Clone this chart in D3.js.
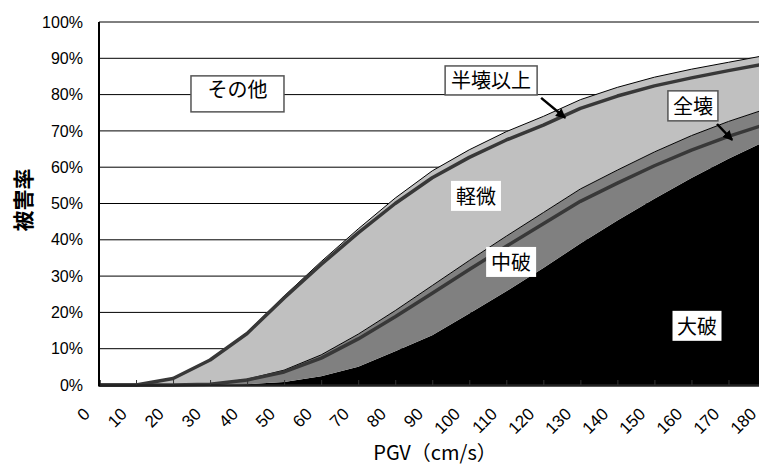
<!DOCTYPE html>
<html><head><meta charset="utf-8">
<script src="https://cdn.jsdelivr.net/npm/d3@7"></script>
<style>
html,body{margin:0;padding:0;background:#fff;}
svg{display:block;}
</style></head>
<body>
<svg id="chart" width="759" height="471"></svg>
<script>
// ---- data ----
const pgv = [0,10,20,30,40,50,60,70,80,90,100,110,120,130,140,150,160,170,180];
const yTicks = [0,10,20,30,40,50,60,70,80,90,100];
// stacked bands (%)
const daiha = [0,0,0,0,0.2,0.8,2.4,5,9.3,13.7,19.7,25.8,32.2,39,45.3,51.3,57,62.3,67.2];   // 大破
const chuha = [0,0,0,0.2,1.4,3.3,5.9,9,11.2,13.7,14.6,15.2,15.3,15,13.9,12.9,11.7,10.3,8.8]; // 中破
const keibi = [0,0,1.8,6.8,12.9,20.4,25.7,29,31,31.6,30.5,28.8,26.5,24.6,22.8,20.6,18.3,16.3,14.8]; // 軽微
// lines (%)
const zenkai = [0,0,0,0.2,1.4,3.6,7.4,12.7,18.8,25.3,31.8,38.2,44.4,50.6,55.6,60.4,64.7,68.5,71.8]; // 全壊
const hankaiIjo = [0,0,1.8,6.9,14.2,24,33.2,41.9,50,57.1,62.7,67.5,71.6,76.2,79.6,82.4,84.6,86.6,88.5]; // 半壊以上
const bandNames = ["大破","中破","軽微"];

// ---- layout ----
const svg = d3.select("#chart");
const x = d3.scaleLinear().domain([0,180]).range([99,765.5]);
const y = d3.scaleLinear().domain([0,100]).range([385,22]);
const numFont = "'Liberation Sans', Arial, sans-serif";
const jpFont = "'Noto Sans CJK JP', sans-serif";

// gridlines
svg.append("g").selectAll("line").data(yTicks.filter(d=>d>0)).join("line")
  .attr("x1", x(0)).attr("x2", 759)
  .attr("y1", d=>y(d)).attr("y2", d=>y(d))
  .attr("stroke", "#000").attr("stroke-width", 1);

// stacked areas
const rows = pgv.map((v,i)=>({v, "大破":daiha[i], "中破":chuha[i], "軽微":keibi[i]}));
const stack = d3.stack().keys(bandNames)(rows);
const fills = {"大破":"#000000","中破":"#808080","軽微":"#c0c0c0"};
const area = d3.area().x(d=>x(d.data.v)).y0(d=>y(d[0])).y1(d=>y(d[1]));
svg.append("g").selectAll("path").data(stack).join("path")
  .attr("d", area).attr("fill", d=>fills[d.key]).attr("stroke","none");

// thin black edges on top of 中破 and 軽微
const topLine = d3.line().x(d=>x(d.data.v)).y(d=>y(d[1]));
svg.append("g").selectAll("path").data(stack.filter(s=>s.key!=="大破")).join("path")
  .attr("d", topLine).attr("fill","none").attr("stroke","#000").attr("stroke-width",1);

// thick lines
const line = d3.line().x((d,i)=>x(pgv[i])).y(d=>y(d));
[zenkai, hankaiIjo].forEach(arr=>{
  svg.append("path").attr("d", line(arr)).attr("fill","none")
    .attr("stroke","#383838").attr("stroke-width",3.5).attr("stroke-linejoin","round");
});

// x axis
const xAxis = svg.append("g").attr("transform",`translate(0,${y(0)})`)
  .call(d3.axisBottom(x).tickValues(pgv).tickSize(-5).tickFormat(d=>d));
xAxis.select(".domain").attr("stroke","#222").attr("stroke-width",2.5);
xAxis.selectAll(".tick line").attr("stroke","#333").attr("stroke-width",1);
xAxis.selectAll(".tick text")
  .attr("font-family", numFont).attr("font-size", 17).attr("fill","#000")
  .attr("text-anchor","end").attr("dy", null).attr("y", null)
  .attr("transform","translate(-8.5,30) rotate(-45)");

// y axis
svg.append("line").attr("x1",x(0)).attr("x2",x(0)).attr("y1",y(100)).attr("y2",y(0)+1)
  .attr("stroke","#000").attr("stroke-width",2);
const yAxis = svg.append("g").attr("transform",`translate(${x(0)},0)`)
  .call(d3.axisLeft(y).tickValues(yTicks).tickSize(0).tickPadding(16).tickFormat(d=>d+"%"));
yAxis.select(".domain").remove();
yAxis.selectAll(".tick text").attr("font-family", numFont).attr("font-size",16).attr("fill","#000");

// axis titles
svg.append("text").attr("x", 435).attr("y", 460).attr("text-anchor","middle")
  .attr("font-family", jpFont).attr("font-size", 20).attr("fill","#000").text("PGV（cm/s）");
svg.append("text").attr("transform","translate(31,200) rotate(-90)").attr("text-anchor","middle")
  .attr("font-family", jpFont).attr("font-size", 21).attr("font-weight","bold").attr("fill","#000").text("被害率");

// annotations
const notes = [
  {t:"その他", v:37.4, p:80.2, w:93, h:36, border:true, dy:-5},
  {t:"半壊以上", v:105.9, p:83.9, w:92, h:29, border:true, dy:-1},
  {t:"全壊", v:160.4, p:76.9, w:50, h:30, border:true, dy:0},
  {t:"軽微", v:101.8, p:52.1, w:50, h:30, border:false, dy:0},
  {t:"中破", v:111.3, p:33.9, w:50, h:30, border:false, dy:0},
  {t:"大破", v:161.5, p:16.3, w:49, h:30, border:false, dy:0}
];
const ng = svg.append("g");
notes.forEach(n=>{
  const cx = x(n.v), cy = y(n.p);
  ng.append("rect").attr("x", cx-n.w/2).attr("y", cy-n.h/2).attr("width", n.w).attr("height", n.h)
    .attr("fill","#fff").attr("stroke", n.border ? "#555" : "none").attr("stroke-width", 1.5);
  ng.append("text").attr("x", cx).attr("y", cy+n.dy).attr("text-anchor","middle")
    .attr("dominant-baseline","central").attr("font-family", jpFont).attr("font-size", 20)
    .attr("fill","#000").text(n.t);
});

// arrows
svg.append("defs").append("marker").attr("id","ah").attr("viewBox","0 0 10 10")
  .attr("refX",9).attr("refY",5).attr("markerWidth",4).attr("markerHeight",4)
  .attr("orient","auto").append("path").attr("d","M0,0 L10,5 L0,10 z").attr("fill","#000");
const arrows = [
  {v1:119.4, p1:79.1, v2:125.9, p2:73.6},
  {v1:166.9, p1:71.9, v2:171.0, p2:67.5}
];
arrows.forEach(a=>{
  svg.append("line").attr("x1",x(a.v1)).attr("y1",y(a.p1)).attr("x2",x(a.v2)).attr("y2",y(a.p2))
    .attr("stroke","#000").attr("stroke-width",2.5).attr("marker-end","url(#ah)");
});
</script>
</body></html>
